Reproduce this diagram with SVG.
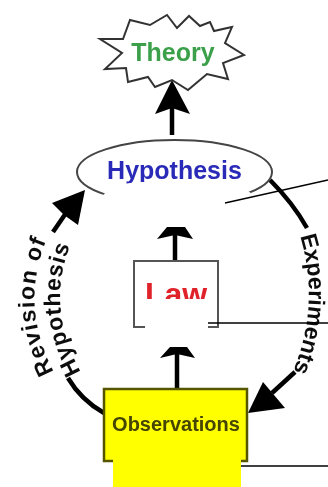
<svg xmlns="http://www.w3.org/2000/svg" width="328" height="487" viewBox="0 0 328 487">
<style>
text{font-family:"Liberation Sans",Arial,sans-serif;font-weight:bold}
.c{fill:none;stroke:#000;stroke-width:4.500}
.h{fill:#000;stroke:none}
.l{fill:none;stroke:#000;stroke-width:1.500}
.cap{fill:#111;font-size:23px}
.m{text-anchor:middle}
.s{filter:url(#soft)}
</style>
<defs>
<filter id="soft" x="-5%" y="-5%" width="110%" height="110%"><feGaussianBlur stdDeviation="0.6"/></filter>
<path id="pExp" d="M300,236 Q321,305 292,374"/>
<path id="pRev" d="M54,372 Q16,300 52,228"/>
<path id="pHyp" d="M81,372 Q42,302 76,232"/>
</defs>
<rect width="328" height="487" fill="#fff"/>
<g id="connectors" class="s">
<path class="c" d="M172,135V105"/><path class="h" d="M172,80L190,114L172,108L155,114Z"/>
<path class="c" d="M175,260V232"/><path class="h" d="M167,227H185L193,239L175,235L157,239Z"/>
<path class="c" d="M177,389V352"/><path class="h" d="M170,347H187L195,358L177,354L160,358Z"/>
<path class="c" d="M68,378Q81,400 104,413"/>
<path class="c" d="M53,232L66,213"/><path class="h" d="M85,190L78,225L64,215L52,203Z"/>
<path class="c" d="M270,180Q293,203 307,228"/>
<path class="c" d="M295,372L272,393"/><path class="h" d="M248,413L263,382L274,395L285,408Z"/>
</g>
<g id="node-theory" class="s">
<polygon points="100,39 123,39 130,20 150,25 167,15 177,28 189,16 200,26 210,22 214,31 232,27 225,43 244,55 223,63 228,79 207,74 188,90 172,80 155,87 148,77 128,82 126,68 105,69 122,53" fill="#fff" stroke="#333" stroke-width="2"/>
<text class="m" x="173" y="61" font-size="25" fill="#3aa04a">Theory</text>
</g>
<g id="node-hypothesis" class="s">
<ellipse cx="174.500" cy="172" rx="97.500" ry="32" fill="#fff" stroke="#444" stroke-width="2"/>
<text class="m" x="174.500" y="179" font-size="25" fill="#2a2ab8">Hypothesis</text>
</g>
<g id="node-law" class="s">
<rect x="134" y="261" width="84" height="66" fill="#fff" stroke="#555" stroke-width="2"/>
<text class="m" x="176" y="305" font-size="32" fill="#e0202a">Law</text>
</g>
<g id="node-observations" class="s">
<rect x="104" y="389" width="143" height="72" fill="#ff0" stroke="#555500" stroke-width="2.500"/>
<text class="m" x="176" y="431" font-size="20" fill="#444400">Observations</text>
</g>
<g id="masks">
<path d="M102,196Q115,183 140,182H225Q240,184 252,194Q240,215 215,226.500H135Q112,215 102,196Z" fill="#fff"/>
<rect x="145" y="299" width="63" height="34" fill="#fff"/>
<rect x="113" y="458" width="128" height="29" fill="#ff0"/>
</g>
<g id="labels" class="s">
<text class="cap"><textPath href="#pExp">Experiments</textPath></text>
<text class="cap"><textPath href="#pRev" letter-spacing="1.200">Revision of</textPath></text>
<text class="cap"><textPath href="#pHyp" letter-spacing="0.800">Hypothesis</textPath></text>
</g>
<g id="leaders">
<path class="l" d="M225,203L328,180"/>
<path class="l" d="M208,323H328"/>
<path class="l" d="M241,466H328"/>
</g>
</svg>
